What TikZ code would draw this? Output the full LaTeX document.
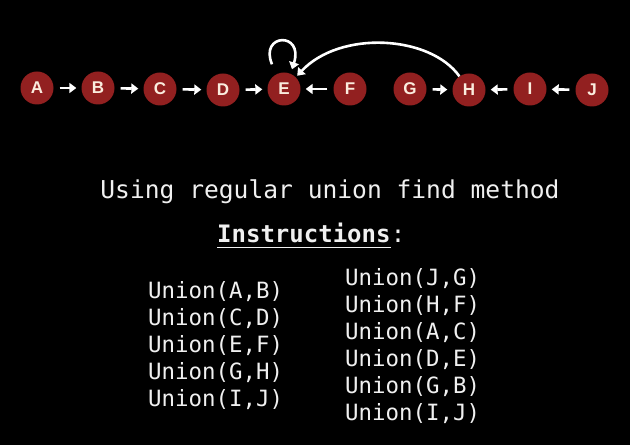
\documentclass[tikz,border=0pt]{standalone}
\usepackage{fontspec}
\setmainfont{Liberation Sans}
\setmonofont{DejaVu Sans Mono}
\usetikzlibrary{arrows.meta}
\definecolor{nodered}{RGB}{146,32,32}
\definecolor{nodetxt}{RGB}{250,236,222}
\definecolor{txt}{RGB}{240,240,240}
\begin{document}
\begin{tikzpicture}[x=1pt,y=1pt,
  vert/.style={circle,fill=nodered,minimum size=33pt,inner sep=0pt,
    text=nodetxt,font=\fontsize{17}{17}\selectfont\bfseries},
  arr/.style={draw=white,line width=2.6pt,-{Triangle[length=7pt,width=10pt]}},
  short/.style={arr,shorten <=6pt,shorten >=5pt},
  big/.style={font=\ttfamily\fontsize{24.6}{28}\selectfont,text=txt,inner sep=0pt,anchor=base},
  cmd/.style={font=\ttfamily\fontsize{22.4}{27}\selectfont,text=txt,inner sep=0pt,anchor=base west}]
\fill[black] (0,0) rectangle (630,445);
\useasboundingbox (0,0) rectangle (630,445);
\node[vert] (A) at (37,357) {A};
\node[vert] (B) at (98,357) {B};
\node[vert] (C) at (160,356) {C};
\node[vert] (D) at (223,355) {D};
\node[vert] (E) at (284,356) {E};
\node[vert] (F) at (350,356) {F};
\node[vert] (G) at (410,356) {G};
\node[vert] (H) at (469,355) {H};
\node[vert] (I) at (530,356) {I};
\node[vert] (J) at (592,355) {J};
\draw[short] (A) -- (B);
\draw[short] (B) -- (C);
\draw[short] (C) -- (D);
\draw[short] (D) -- (E);
\draw[short] (F) -- (E);
\draw[short] (G) -- (H);
\draw[short] (I) -- (H);
\draw[short] (J) -- (I);
\draw[arr] ([shift={(-12,8)}]E.north) .. controls +(-13,31) and +(12,38) .. ([shift={(8,3)}]E.north);
\draw[arr,shorten >=2pt] (H.125) .. controls (430,410) and (340,415) .. (E.45);
\node[big] (title) at (330,246) {Using regular union find method};
\node[big,anchor=base west,font=\ttfamily\bfseries\fontsize{24}{28}\selectfont] (ins) at (217,202) {Instructions};
\node[big,anchor=base west,font=\ttfamily\fontsize{24}{28}\selectfont] (colon) at (ins.base east) {:};
\draw[txt,line width=1.8pt] ([yshift=-4]ins.south west) -- ([yshift=-4]ins.south east);
\node[cmd] (l1) at (148,146) {Union(A,B)};
\node[cmd] (l2) at (148,119) {Union(C,D)};
\node[cmd] (l3) at (148,92) {Union(E,F)};
\node[cmd] (l4) at (148,65) {Union(G,H)};
\node[cmd] (l5) at (148,38) {Union(I,J)};
\node[cmd] (r1) at (345,159) {Union(J,G)};
\node[cmd] (r2) at (345,132) {Union(H,F)};
\node[cmd] (r3) at (345,105) {Union(A,C)};
\node[cmd] (r4) at (345,78) {Union(D,E)};
\node[cmd] (r5) at (345,51) {Union(G,B)};
\node[cmd] (r6) at (345,24) {Union(I,J)};
\end{tikzpicture}
\end{document}
